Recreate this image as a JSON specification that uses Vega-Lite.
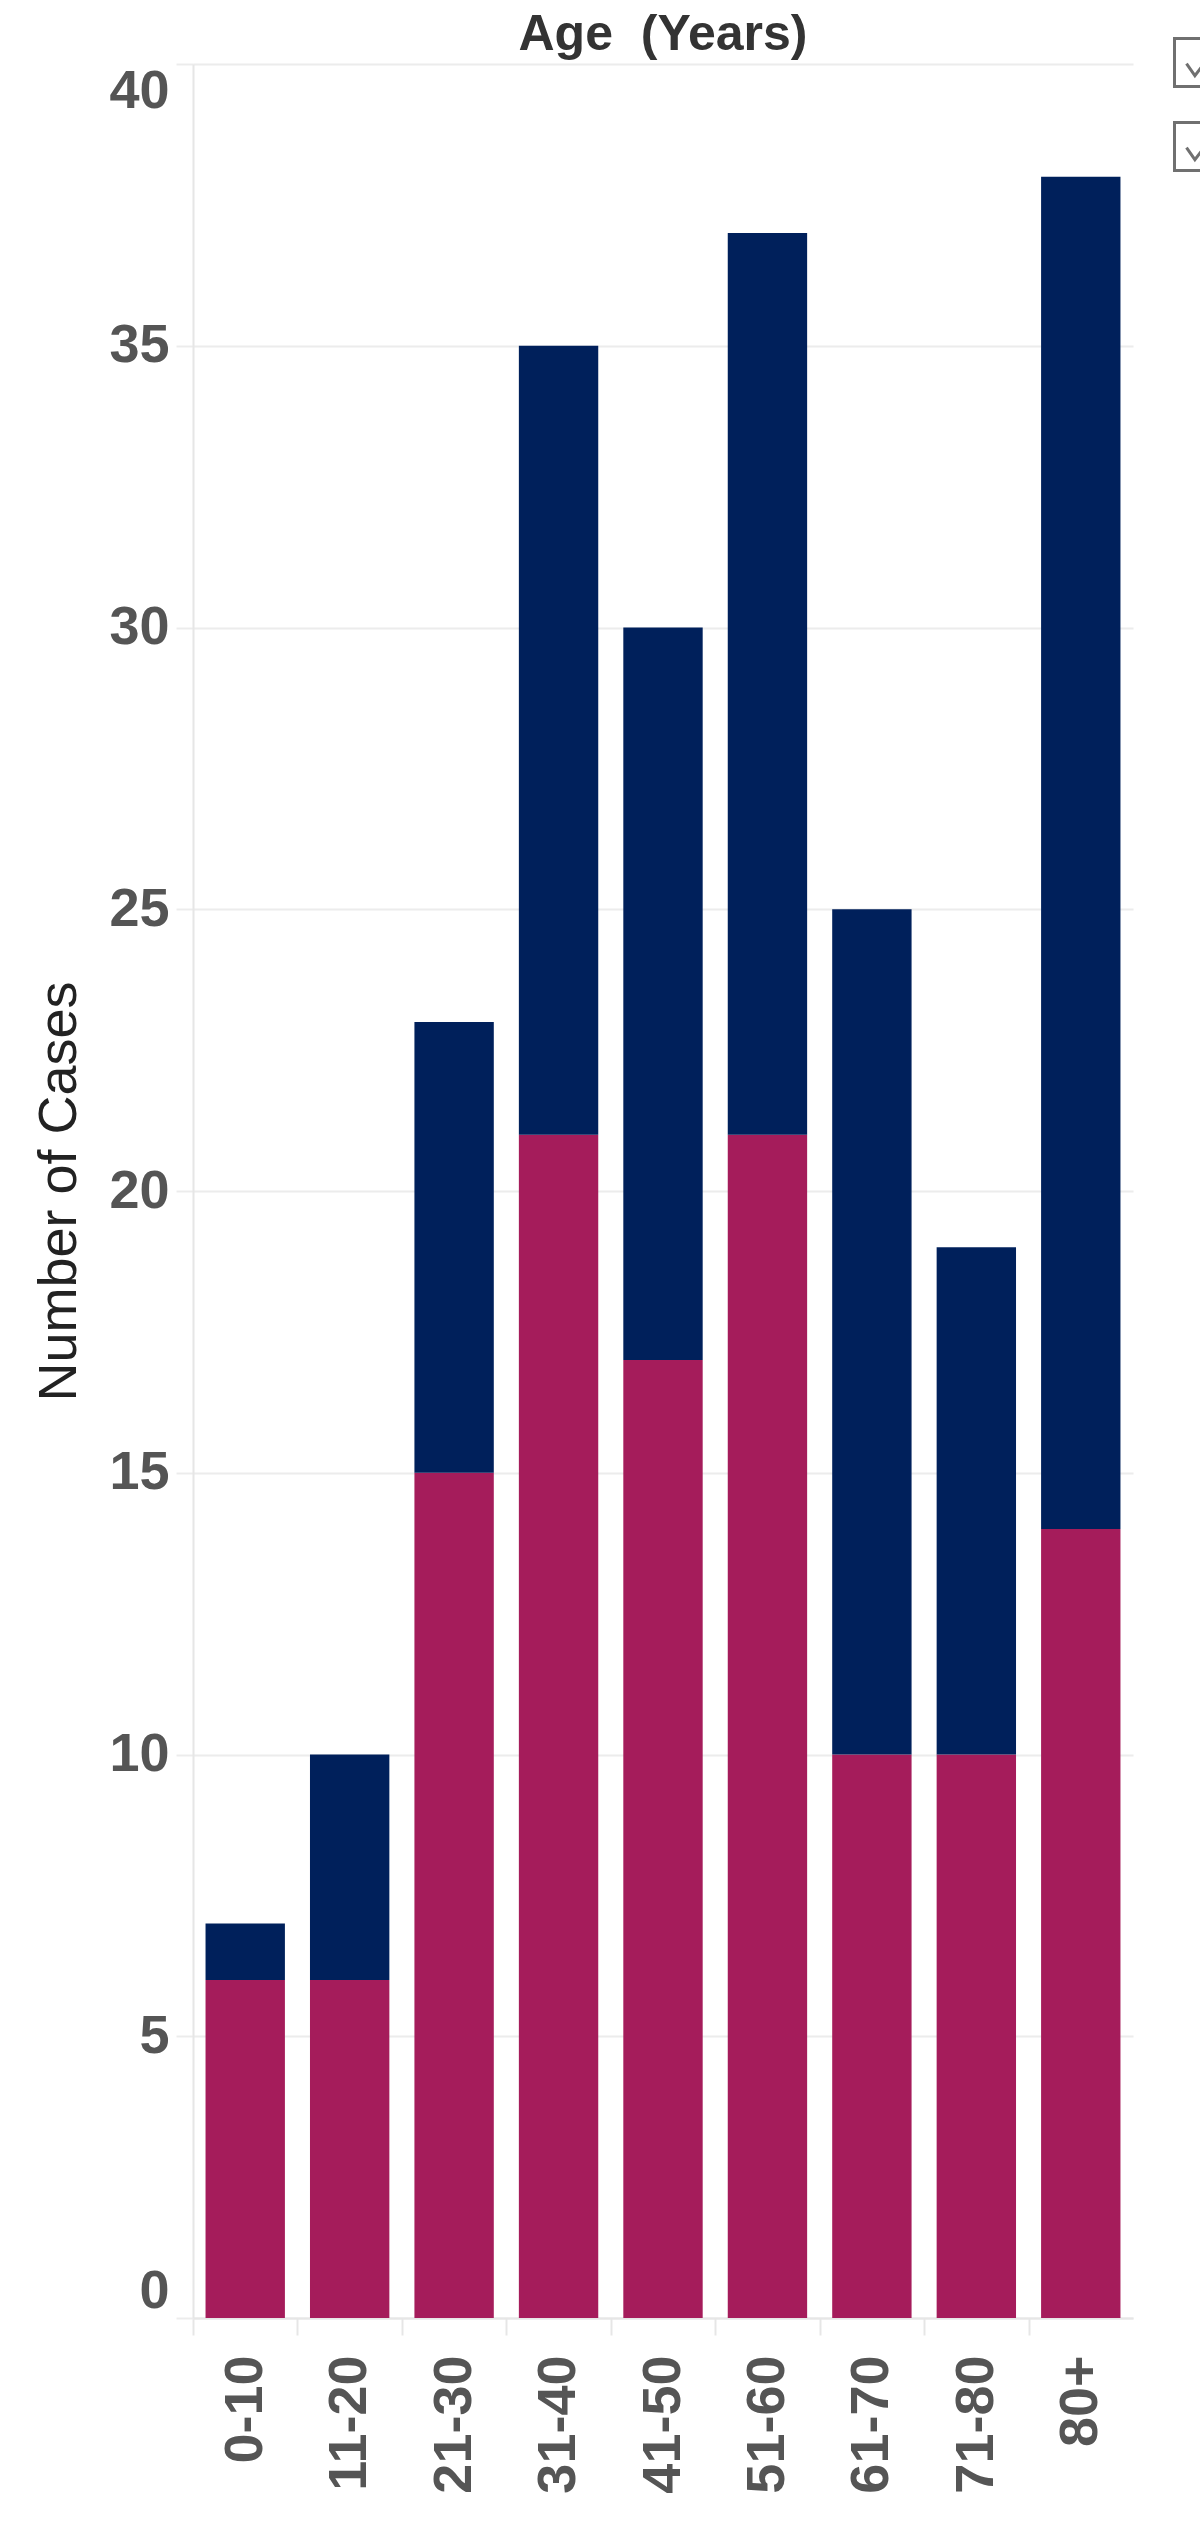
{
  "$schema": "https://vega.github.io/schema/vega-lite/v6.json",
  "width": 940,
  "height": 2254,
  "autosize": {"type": "none"},
  "padding": {"left": 193, "top": 64, "right": 67, "bottom": 208},
  "background": "white",
  "title": {
    "text": "Age\u00a0 (Years)",
    "anchor": "middle",
    "font": "Liberation Sans",
    "fontSize": 50,
    "fontWeight": "bold",
    "color": "#333333",
    "baseline": "alphabetic",
    "offset": 4,
    "dy": 67
  },
  "data": {
    "values": [
      {"age": "0-10", "sex": "Female", "cases": 6},
      {"age": "0-10", "sex": "Male", "cases": 1},
      {"age": "11-20", "sex": "Female", "cases": 6},
      {"age": "11-20", "sex": "Male", "cases": 4},
      {"age": "21-30", "sex": "Female", "cases": 15},
      {"age": "21-30", "sex": "Male", "cases": 8},
      {"age": "31-40", "sex": "Female", "cases": 21},
      {"age": "31-40", "sex": "Male", "cases": 14},
      {"age": "41-50", "sex": "Female", "cases": 17},
      {"age": "41-50", "sex": "Male", "cases": 13},
      {"age": "51-60", "sex": "Female", "cases": 21},
      {"age": "51-60", "sex": "Male", "cases": 16},
      {"age": "61-70", "sex": "Female", "cases": 10},
      {"age": "61-70", "sex": "Male", "cases": 15},
      {"age": "71-80", "sex": "Female", "cases": 10},
      {"age": "71-80", "sex": "Male", "cases": 9},
      {"age": "80+", "sex": "Female", "cases": 14},
      {"age": "80+", "sex": "Male", "cases": 24}
    ]
  },
  "mark": {"type": "bar"},
  "encoding": {
    "x": {
      "field": "age",
      "type": "nominal",
      "sort": null,
      "scale": {"paddingInner": 0.24, "paddingOuter": 0.12},
      "axis": {
        "title": null,
        "labelAngle": -90,
        "labelAlign": "right",
        "labelBaseline": "middle",
        "labelFont": "Liberation Sans",
        "labelFontWeight": "bold",
        "labelFontSize": 54,
        "labelColor": "#555555",
        "labelPadding": 20,
        "tickSize": 17,
        "tickColor": "#e6e6e6",
        "tickWidth": 2,
        "tickOffset": -52.22,
        "labelOffset": 52.22,
        "domainColor": "#e6e6e6",
        "domainWidth": 2,
        "grid": false
      }
    },
    "y": {
      "field": "cases",
      "type": "quantitative",
      "stack": "zero",
      "scale": {"domain": [0, 40], "nice": false},
      "axis": {
        "title": "Number of Cases",
        "titleFont": "Liberation Sans",
        "titleFontSize": 54,
        "titleFontWeight": "normal",
        "titleColor": "#222222",
        "titlePadding": 22,
        "values": [0, 5, 10, 15, 20, 25, 30, 35, 40],
        "labelFont": "Liberation Sans",
        "labelFontWeight": "bold",
        "labelFontSize": 54,
        "labelColor": "#555555",
        "labelPadding": 7,
        "labelFlush": true,
        "tickSize": 17,
        "tickColor": "#ececec",
        "tickWidth": 2,
        "domainColor": "#e6e6e6",
        "domainWidth": 2,
        "gridColor": "#ececec",
        "gridWidth": 2
      }
    },
    "color": {
      "field": "sex",
      "type": "nominal",
      "scale": {
        "domain": ["Female", "Male"],
        "range": ["#A51C5B", "#00205B"]
      },
      "legend": {
        "orient": "none",
        "legendX": 980,
        "legendY": -27,
        "title": null,
        "padding": 0,
        "symbolType": "M-1,-1H1V1H-1Z M-0.5,0.05L-0.15,0.55L0.6,-0.45",
        "symbolSize": 2304,
        "symbolStrokeWidth": 3,
        "symbolFillColor": "transparent",
        "symbolStrokeColor": "#707070",
        "rowPadding": 23,
        "labelFontSize": 30,
        "labelExpr": "''",
        "encode": {
          "symbols": {
            "enter": {
              "fill": {"value": "transparent"},
              "fillOpacity": {"value": 0},
              "stroke": {"value": "#707070"}
            },
            "update": {
              "fill": {"value": "transparent"},
              "fillOpacity": {"value": 0},
              "stroke": {"value": "#707070"},
              "opacity": {"value": 1}
            }
          }
        }
      }
    },
    "order": {"field": "sex", "sort": "ascending"}
  },
  "config": {"view": {"stroke": null}}
}
